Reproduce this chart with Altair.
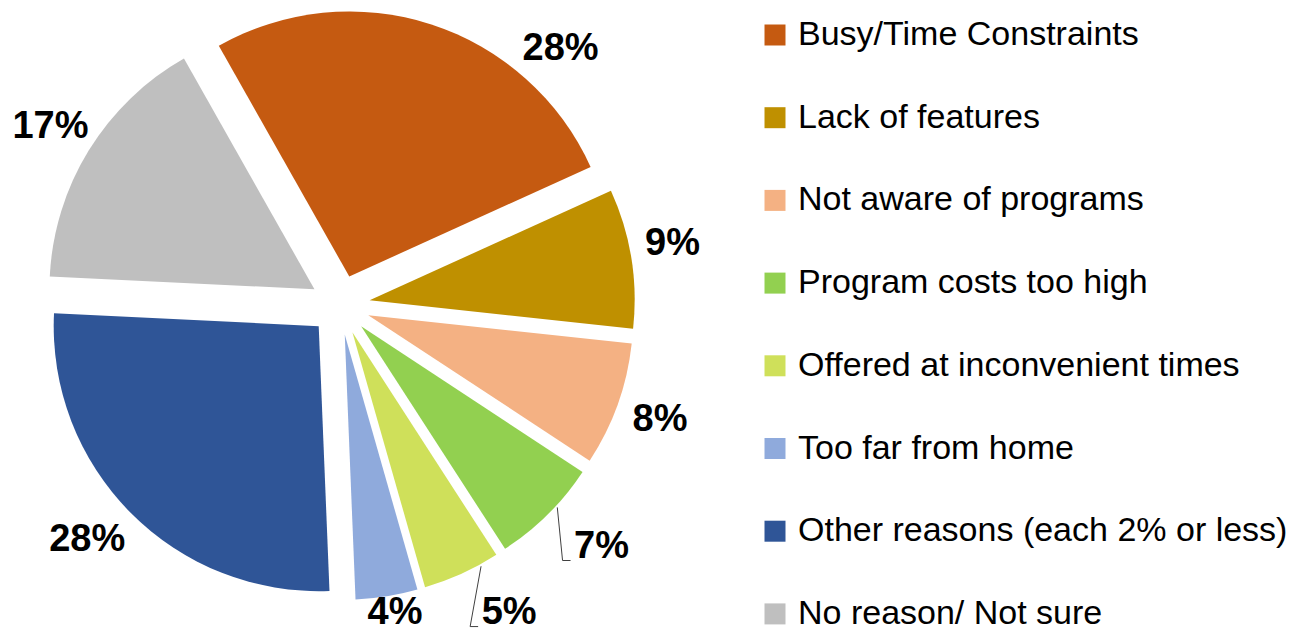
import altair as alt
import pandas as pd

# ---- data ----
categories = [
    "Busy/Time Constraints",
    "Lack of features",
    "Not aware of programs",
    "Program costs too high",
    "Offered at inconvenient times",
    "Too far from home",
    "Other reasons (each 2% or less)",
    "No reason/ Not sure",
]
percents = [28, 9, 8, 7, 5, 4, 28, 17]

# ---- styles / layout ----
colors = ["#C55A11", "#BF9000", "#F4B183", "#92D050", "#CFE05A", "#8FAADC", "#2F5597", "#BFBFBF"]
W, H = 1286, 626
CX, CY = 332, 297          # pie centre (px inside the view)
R = 265                    # pie radius
EXPLODE = 30               # slice explosion
START_DEG = -29.5          # first slice start angle
LABEL_R = 340              # default label radius
# per-label placement tweaks: (angle shift in degrees, radius, leader line)
label_tweaks = {
    "Busy/Time Constraints": (22.7, 338, 0),
    "Lack of features": (-1.2, 338, 0),
    "Program costs too high": (-2.5, 356, 1),
    "Offered at inconvenient times": (-4.4, 351, 1),
    "Too far from home": (-1.0, 313, 0),
    "Other reasons (each 2% or less)": (1.9, 345, 0),
}

df = pd.DataFrame({
    "idx": list(range(len(categories))),
    "category": categories,
    "value": percents,
    "label": [f"{p}%" for p in percents],
    "ldeg": [label_tweaks.get(c, (0, LABEL_R, 0))[0] for c in categories],
    "lrad": [label_tweaks.get(c, (0, LABEL_R, 0))[1] for c in categories],
    "leader": [label_tweaks.get(c, (0, LABEL_R, 0))[2] for c in categories],
})

base = (
    alt.Chart(df)
    .transform_window(cum="sum(value)", sort=[alt.SortField("idx")], frame=[None, 0])
    .transform_joinaggregate(total="sum(value)")
    .transform_calculate(
        t0=f"{START_DEG}*PI/180 + 2*PI*(datum.cum - datum.value)/datum.total",
        t1=f"{START_DEG}*PI/180 + 2*PI*datum.cum/datum.total",
    )
    .transform_calculate(mid="(datum.t0 + datum.t1)/2")
    .transform_calculate(
        ex=f"{CX} + {EXPLODE}*sin(datum.mid)",
        ey=f"{CY} - {EXPLODE}*cos(datum.mid)",
        la="datum.mid + datum.ldeg*PI/180",
    )
    .transform_calculate(
        lx=f"{CX} + datum.lrad*sin(datum.la)",
        ly=f"{CY} - datum.lrad*cos(datum.la)",
        sx=f"datum.ex + {R + 2}*sin(datum.la)",
        sy=f"datum.ey - {R + 2}*cos(datum.la)",
    )
    .transform_calculate(
        elx="datum.lx - 39",
        ely="datum.ly + 14",
        eex="datum.lx - 31",
    )
)

arcs = base.mark_arc(radius=R, stroke=None).encode(
    x=alt.X("ex:Q", scale=None, axis=None),
    y=alt.Y("ey:Q", scale=None, axis=None),
    theta=alt.Theta("t0:Q", scale=None, stack=None),
    theta2="t1:Q",
    color=alt.Color(
        "category:N",
        scale=alt.Scale(domain=categories, range=colors),
        sort=categories,
        legend=alt.Legend(
            title=None,
            orient="none",
            legendX=750,
            legendY=10,
            symbolType="square",
            symbolSize=441,
            symbolStrokeWidth=0,
            labelFontSize=34,
            labelFont="Liberation Sans",
            labelColor="#000000",
            labelOffset=6,
            labelLimit=700,
            rowPadding=48.7,
            padding=0,
        ),
    ),
    tooltip=["category:N", "value:Q"],
)

labels = base.mark_text(
    font="Liberation Sans", fontSize=38, fontWeight="bold", color="#000000",
    align="center", baseline="middle",
).encode(
    x=alt.X("lx:Q", scale=None, axis=None),
    y=alt.Y("ly:Q", scale=None, axis=None),
    text="label:N",
)

lead1 = base.transform_filter("datum.leader == 1").mark_rule(color="#404040", strokeWidth=1).encode(
    x=alt.X("sx:Q", scale=None, axis=None),
    y=alt.Y("sy:Q", scale=None, axis=None),
    x2="elx:Q",
    y2="ely:Q",
)
lead2 = base.transform_filter("datum.leader == 1").mark_rule(color="#404040", strokeWidth=1).encode(
    x=alt.X("elx:Q", scale=None, axis=None),
    y=alt.Y("ely:Q", scale=None, axis=None),
    x2="eex:Q",
    y2="ely:Q",
)

chart = (
    alt.layer(arcs, lead1, lead2, labels)
    .properties(width=W, height=H, padding=0, autosize=alt.AutoSizeParams(type="none"))
    .configure_view(stroke=None)
)

chart.save("out.html", embed_options={"renderer": "svg", "actions": False})
